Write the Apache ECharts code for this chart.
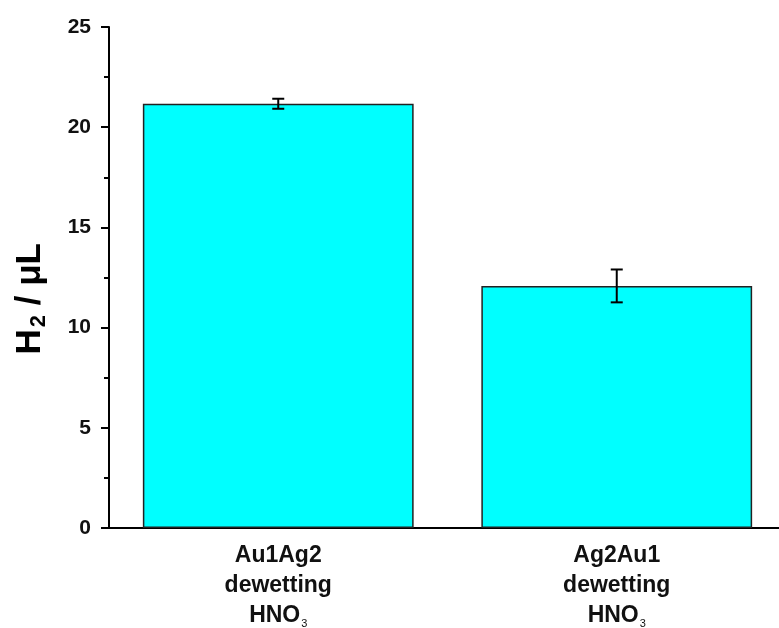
<!DOCTYPE html>
<html><head><meta charset="utf-8">
<script src="https://cdn.jsdelivr.net/npm/echarts@6/dist/echarts.min.js"></script>
<style>html,body{margin:0;padding:0;background:#fff;overflow:hidden;width:779px;height:628px}#c{width:786px;height:628px}</style>
</head><body><div id="c"></div>
<script>
const categories = ['Au1Ag2|dewetting|HNO', 'Ag2Au1|dewetting|HNO'];
const values = [21.17, 12.08];
const errors = [0.25, 0.82];
const yTicks = [0, 5, 10, 15, 20, 25];

const FF = 'Liberation Sans, Arial, sans-serif';
const chart = echarts.init(document.getElementById('c'));
const errData = values.map((v, i) => [i, v - errors[i], v + errors[i]]);
chart.setOption({
  animation: false,
  grid: {left: 109, right: 0, top: 27, bottom: 100, outerBoundsMode: 'none', containLabel: false},
  xAxis: {
    type: 'category', data: categories,
    axisLine: {lineStyle: {color: '#000', width: 2}},
    axisTick: {show: false},
    axisLabel: {
      margin: 13,
      formatter: v => { const p = v.split('|'); return '{a|' + p[0] + '}\n{a|' + p[1] + '}\n{a|' + p[2] + '}{s|3}'; },
      rich: {
        a: {fontFamily: FF, fontWeight: 'bold', fontSize: 23, color: '#111', lineHeight: 30},
        s: {fontFamily: FF, fontSize: 11, color: '#111', lineHeight: 30, padding: [15, 0, 0, 1]}
      }
    }
  },
  yAxis: {
    type: 'value', min: 0, max: 25, interval: 5,
    splitLine: {show: false},
    axisLine: {show: true, lineStyle: {color: '#000', width: 2}},
    axisTick: {show: true, length: 8, lineStyle: {width: 2, color: '#000'}},
    minorTick: {show: true, splitNumber: 2, length: 5, lineStyle: {width: 2, color: '#000'}},
    axisLabel: {fontFamily: FF, fontWeight: 'bold', fontSize: 21, color: '#111', margin: 18,
      formatter: v => yTicks.includes(v) ? String(v) : ''}
  },
  graphic: [{
    type: 'text', left: 13, top: 243, rotation: Math.PI / 2, originX: 0, originY: 0,
    style: {
      text: '{h|H}{s|2}{h| / μL}',
      rich: {
        h: {fontFamily: FF, fontWeight: 'bold', fontSize: 35, fill: '#000'},
        s: {fontFamily: FF, fontWeight: 'bold', fontSize: 22, fill: '#000', padding: [16, 0, 0, 2]}
      }
    }
  }],
  series: [
    {
      type: 'bar', data: values, barWidth: '80%',
      itemStyle: {color: '#00FFFF', borderColor: '#222', borderWidth: 1.5}
    },
    {
      type: 'custom', data: errData, z: 10,
      renderItem: (params, api) => {
        const x = api.value(0);
        const lo = api.coord([x, api.value(1)]);
        const hi = api.coord([x, api.value(2)]);
        const hw = 6;
        const st = {stroke: '#000', lineWidth: 2};
        return {type: 'group', children: [
          {type: 'line', shape: {x1: lo[0], y1: lo[1], x2: hi[0], y2: hi[1]}, style: st},
          {type: 'line', shape: {x1: lo[0] - hw, y1: lo[1], x2: lo[0] + hw, y2: lo[1]}, style: st},
          {type: 'line', shape: {x1: hi[0] - hw, y1: hi[1], x2: hi[0] + hw, y2: hi[1]}, style: st}
        ]};
      }
    }
  ]
});
</script></body></html>
